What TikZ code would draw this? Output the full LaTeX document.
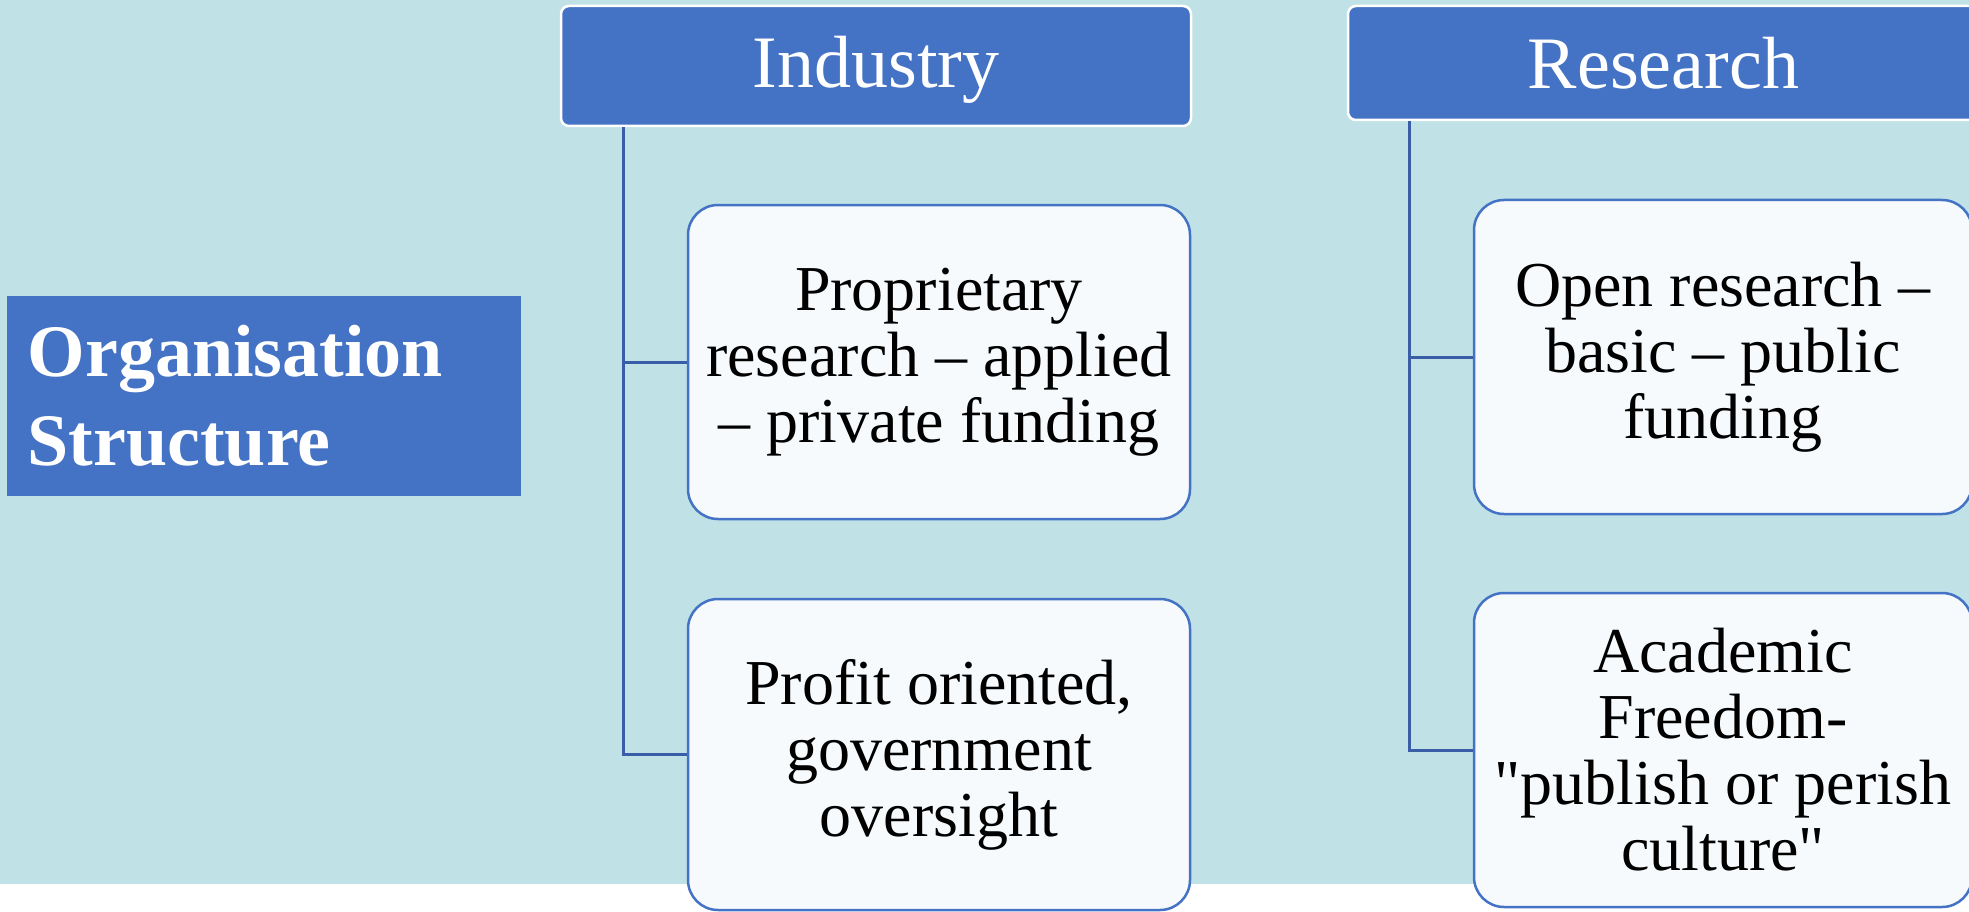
\documentclass[tikz,border=0pt]{standalone}
\usepackage{fontspec}
\setmainfont{Liberation Serif}[Ligatures=TeXOff]
\definecolor{bgblue}{HTML}{C0E1E6}
\definecolor{accent}{HTML}{4472C4}
\definecolor{boxfill}{HTML}{F6FAFC}
\definecolor{linkblue}{HTML}{3A5DA8}
\tikzset{
  header/.style={draw=white, line width=2.5pt, fill=accent, rounded corners=8pt,
    text=white, font=\fontsize{74}{89}\selectfont, inner sep=0pt},
  itembox/.style={draw=accent, line width=2.5pt, fill=boxfill, rounded corners=30pt,
    text=black, align=center, font=\fontsize{64}{66}\selectfont, inner sep=0pt},
  link/.style={draw=linkblue, line width=3pt},
  titlebox/.style={fill=accent, text=white, align=left, inner xsep=20.7pt, inner ysep=0pt,
    font=\fontsize{74}{89}\selectfont\bfseries}
}
\begin{document}
\begin{tikzpicture}[x=1pt,y=-1pt]
\useasboundingbox (0,0) rectangle (1969,912);
\fill[bgblue] (0,0) rectangle (1969,884);
% title
\node[titlebox, text width=472.6pt, minimum height=200pt] (org) at (264,396)
  {Organisation\\Structure};
% headers
\node[header, minimum width=630pt, minimum height=120pt, text depth=8pt] (ind) at (876,66) {Industry};
\node[header, minimum width=631pt, minimum height=114pt] (res) at (1663.5,63) {Research};
% boxes
\node[itembox, minimum width=502pt, minimum height=314pt] (b1) at (939,362)
  {Proprietary\\research – applied\\– private funding};
\node[itembox, minimum width=502pt, minimum height=311pt] (b2) at (939,754.5)
  {Profit oriented,\\government\\oversight};
\node[itembox, minimum width=498pt, minimum height=314pt] (b3) at (1723,357)
  {Open research –\\basic – public\\funding};
\node[itembox, minimum width=498pt, minimum height=314pt] (b4) at (1723,750)
  {Academic\\Freedom-\\"publish or perish\\culture"};
% connectors
\coordinate (ti) at ([xshift=64pt]ind.south west);
\coordinate (tr) at ([xshift=63pt]res.south west);
\draw[link] (ti) |- (b1.west);
\draw[link] (ti) |- (b2.west);
\draw[link] (tr) |- (b3.west);
\draw[link] (tr) |- (b4.west);
\end{tikzpicture}
\end{document}
